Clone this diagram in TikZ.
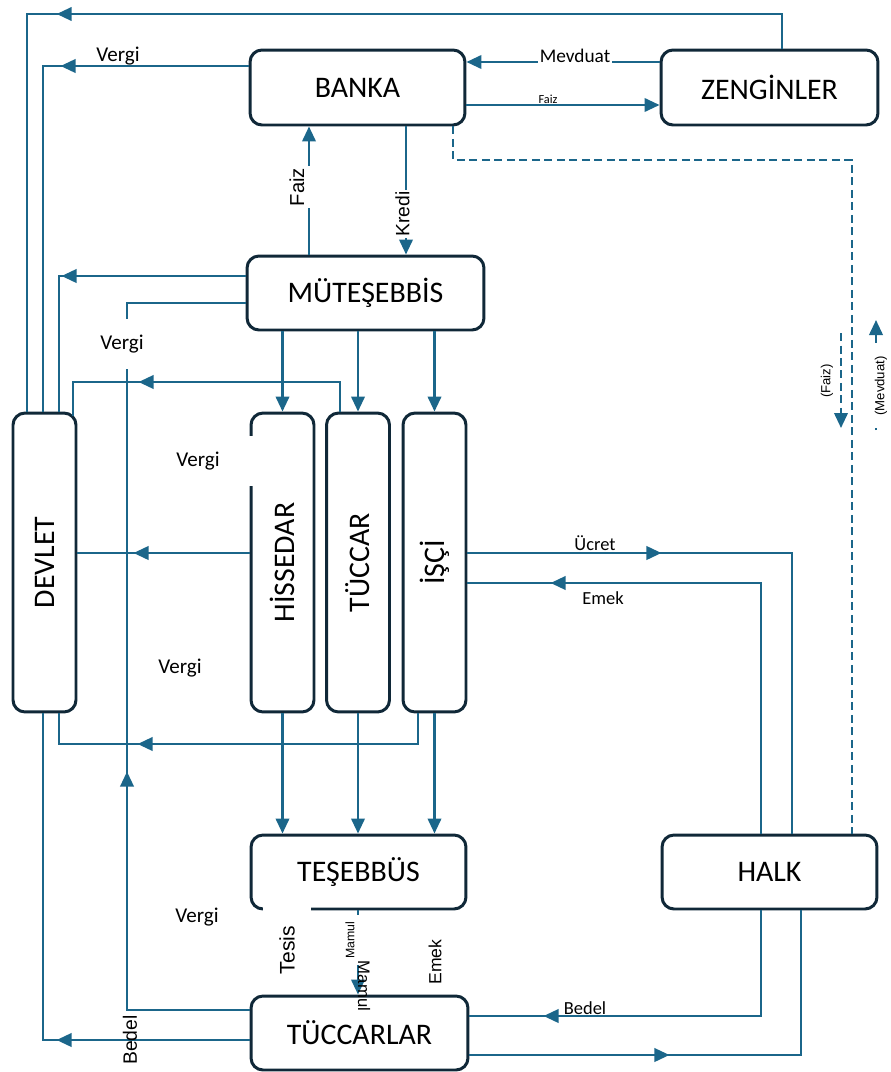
\documentclass[tikz,border=0pt]{standalone}
\usepackage{fontspec}
\setmainfont{Carlito}
\newfontfamily\arialf{Liberation Sans}
\usetikzlibrary{arrows.meta,decorations.markings}
\definecolor{flowblue}{RGB}{27,102,138}
\definecolor{boxedge}{RGB}{16,40,56}
\tikzset{
  kutu/.style={draw=boxedge, line width=1.7pt, rounded corners=0.24cm, fill=white,
    inner sep=0pt, font=\fontsize{17}{20}\selectfont},
  dikkutu/.style={kutu, minimum width=1.26cm, minimum height=5.98cm},
  akis/.style={draw, color=flowblue, line width=1.3pt},
  ok/.style={-{Triangle[length=3mm,width=2.7mm]}},
  okat/.style={postaction={decorate, decoration={markings,
    mark=at position #1 with {\arrow{Triangle[length=3mm,width=2.7mm]}}}}},
  etiket/.style={inner sep=1pt, font=\fontsize{12}{14}\selectfont},
  dikyazi/.style={rotate=90, inner sep=1pt},
  kesik/.style={dash pattern=on 0.16cm off 0.09cm},
}
\begin{document}
\begin{tikzpicture}[x=0.02cm, y=-0.02cm]
  \useasboundingbox (0,0) rectangle (890,1072);
  % kutular
  \node[kutu, minimum width=4.3cm, minimum height=1.5cm] (banka) at (357.5,87.5) {BANKA};
  \node[kutu, minimum width=4.34cm, minimum height=1.5cm] (zengin) at (769.5,87.5) {ZENGİNLER};
  \node[kutu, minimum width=4.74cm, minimum height=1.48cm] (mutesebbis) at (365.5,293) {MÜTEŞEBBİS};
  \node[dikkutu] (devlet) at (44.5,562.5) {\rotatebox{90}{DEVLET}};
  \node[dikkutu] (hissedar) at (282.5,562.5) {\rotatebox{90}{HİSSEDAR}};
  \node[dikkutu] (tuccar) at (358,562.5) {\rotatebox{90}{TÜCCAR}};
  \node[dikkutu] (isci) at (434.5,562.5) {\rotatebox{90}{İŞÇİ}};
  \node[kutu, minimum width=4.3cm, minimum height=1.48cm] (tesebbus) at (358.5,872) {TEŞEBBÜS};
  \node[kutu, minimum width=4.3cm, minimum height=1.48cm] (halk) at (769.5,872) {HALK};
  \node[kutu, minimum width=4.34cm, minimum height=1.48cm] (tuccarlar) at (359.5,1033) {TÜCCARLAR};

  % banka ve zenginler
  \draw[akis, okat=15.2cm] (zengin.north -| 782,0) |- (27,14) -- (devlet.north -| 27,0);
  \draw[akis, okat=3.76cm] (banka.west |- 0,66) -| (devlet.north -| 43,0);
  \node[etiket] (vergiA) at (118,56) {Vergi};
  \draw[akis, ok] (zengin.west |- 0,62) -- (banka.east |- 0,62);
  \node[etiket, fill=white, font=\fontsize{11}{13}\selectfont] (mevduatA) at (575,56) {Mevduat};
  \draw[akis, ok] (banka.east |- 0,105) -- (zengin.west |- 0,105);
  \node[font=\fontsize{7}{8}\selectfont] (faizA) at (548,99) {Faiz};
  \draw[akis, ok] (mutesebbis.north -| 309,0) -- (banka.south -| 309,0);
  \node[dikyazi, fill=white, minimum width=0.86cm, minimum height=0.98cm,
    font=\arialf\fontsize{11.5}{13}\selectfont] (faizB) at (297,187) {Faiz};
  \draw[akis, ok] (banka.south -| 406,0) -- (mutesebbis.north -| 406,0);
  \node[dikyazi, fill=white, minimum width=0.96cm, minimum height=0.98cm,
    font=\arialf\fontsize{11}{13}\selectfont] (kredi) at (402.5,214) {Kredi};

  % banka - halk
  \draw[akis, kesik] (banka.south -| 453,0) |- (852,160) -- (halk.north -| 852,0);
  \coordinate (faizUst) at (841,333);
  \coordinate (faizAlt) at (841,428);
  \draw[akis, kesik, ok] (faizUst) -- (faizAlt);
  \node[dikyazi, font=\arialf\fontsize{7.5}{9}\selectfont] (faizC) at (827,381) {(Faiz)};
  \coordinate (mevAlt) at (876,430);
  \coordinate (mevUst) at (876,320);
  \draw[akis, kesik, ok] (mevAlt) -- (mevUst);
  \node[dikyazi, fill=white, minimum width=1.68cm,
    font=\arialf\fontsize{7.5}{9}\selectfont] (mevduatB) at (881,386) {(Mevduat)};

  % müteşebbis
  \draw[akis, okat=3.68cm] (mutesebbis.west |- 0,276) -| (devlet.north -| 59,0);
  \draw[akis, okat=7.22cm] (tuccarlar.west |- 0,1010) -| (127,303) -- (mutesebbis.west |- 0,303);
  \node[etiket, fill=white, minimum height=1cm] (vergiB) at (122,344) {Vergi};
  \draw[akis, okat=4.62cm, shorten >=-0.09cm] (tuccar.north -| 340,0) |- (73,382) -- (devlet.north -| 73,0);
  \foreach \k in {hissedar,tuccar,isci}
    \draw[akis, ok] (mutesebbis.south -| \k.north) -- (\k.north);

  % devlete vergi
  \draw[akis, okat=2.32cm] (hissedar.west |- 0,553) -- (devlet.east |- 0,553);
  \draw[akis, okat=6.22cm] (isci.south -| 418,0) |- (59,744) -- (devlet.south -| 59,0);
  \node[etiket, fill=white, minimum width=2.2cm, minimum height=1cm] (vergiC) at (198,461) {Vergi};
  \node[etiket] (vergiD) at (180,668) {Vergi};
  \foreach \k in {hissedar,tuccar,isci}
    \draw[akis, ok] (\k.south) -- (tesebbus.north -| \k.south);

  % işçi - halk
  \draw[akis, okat=3.88cm] (isci.east |- 0,553) -| (halk.north -| 792,0);
  \node[etiket, font=\fontsize{10.5}{12}\selectfont] (ucret) at (595,543) {Ücret};
  \draw[akis, okat=9.22cm] (halk.north -| 761,0) |- (isci.east |- 0,583);
  \node[etiket, font=\fontsize{10.5}{12}\selectfont] (emekA) at (603,598) {Emek};

  % tüccarlar
  \draw[akis, ok] (tesebbus.south -| 358,0) -- (tuccarlar.north -| 358,0);
  \node[dikyazi, fill=white, minimum width=1cm, minimum height=0.6cm,
    font=\arialf\fontsize{7}{8}\selectfont] (mamulA) at (350,940) {Mamul};
  \node[rotate=-90, inner sep=0pt, font=\arialf\fontsize{9.5}{11}\selectfont] (mamulB) at (364,986) {Mamul};
  \node[dikyazi, fill=white, minimum width=1.76cm, minimum height=0.96cm,
    font=\arialf\fontsize{12}{14}\selectfont] (tesis) at (287,950) {Tesis};
  \node[dikyazi, font=\arialf\fontsize{10}{12}\selectfont] (emekB) at (435,962) {Emek};
  \node[etiket] (vergiE) at (197,917) {Vergi};
  \draw[akis, okat=3.86cm] (tuccarlar.west |- 0,1040) -| (devlet.south -| 43,0);
  \node[dikyazi, font=\arialf\fontsize{11}{13}\selectfont] (bedelA) at (130,1040) {Bedel};
  \draw[akis, okat=6.46cm] (halk.south -| 761,0) |- (tuccarlar.east |- 0,1016);
  \node[etiket, font=\fontsize{10.5}{12}\selectfont] (bedelB) at (585,1008) {Bedel};
  \draw[akis, okat=4.0cm] (tuccarlar.east |- 0,1055) -| (halk.south -| 801,0);
\end{tikzpicture}
\end{document}
